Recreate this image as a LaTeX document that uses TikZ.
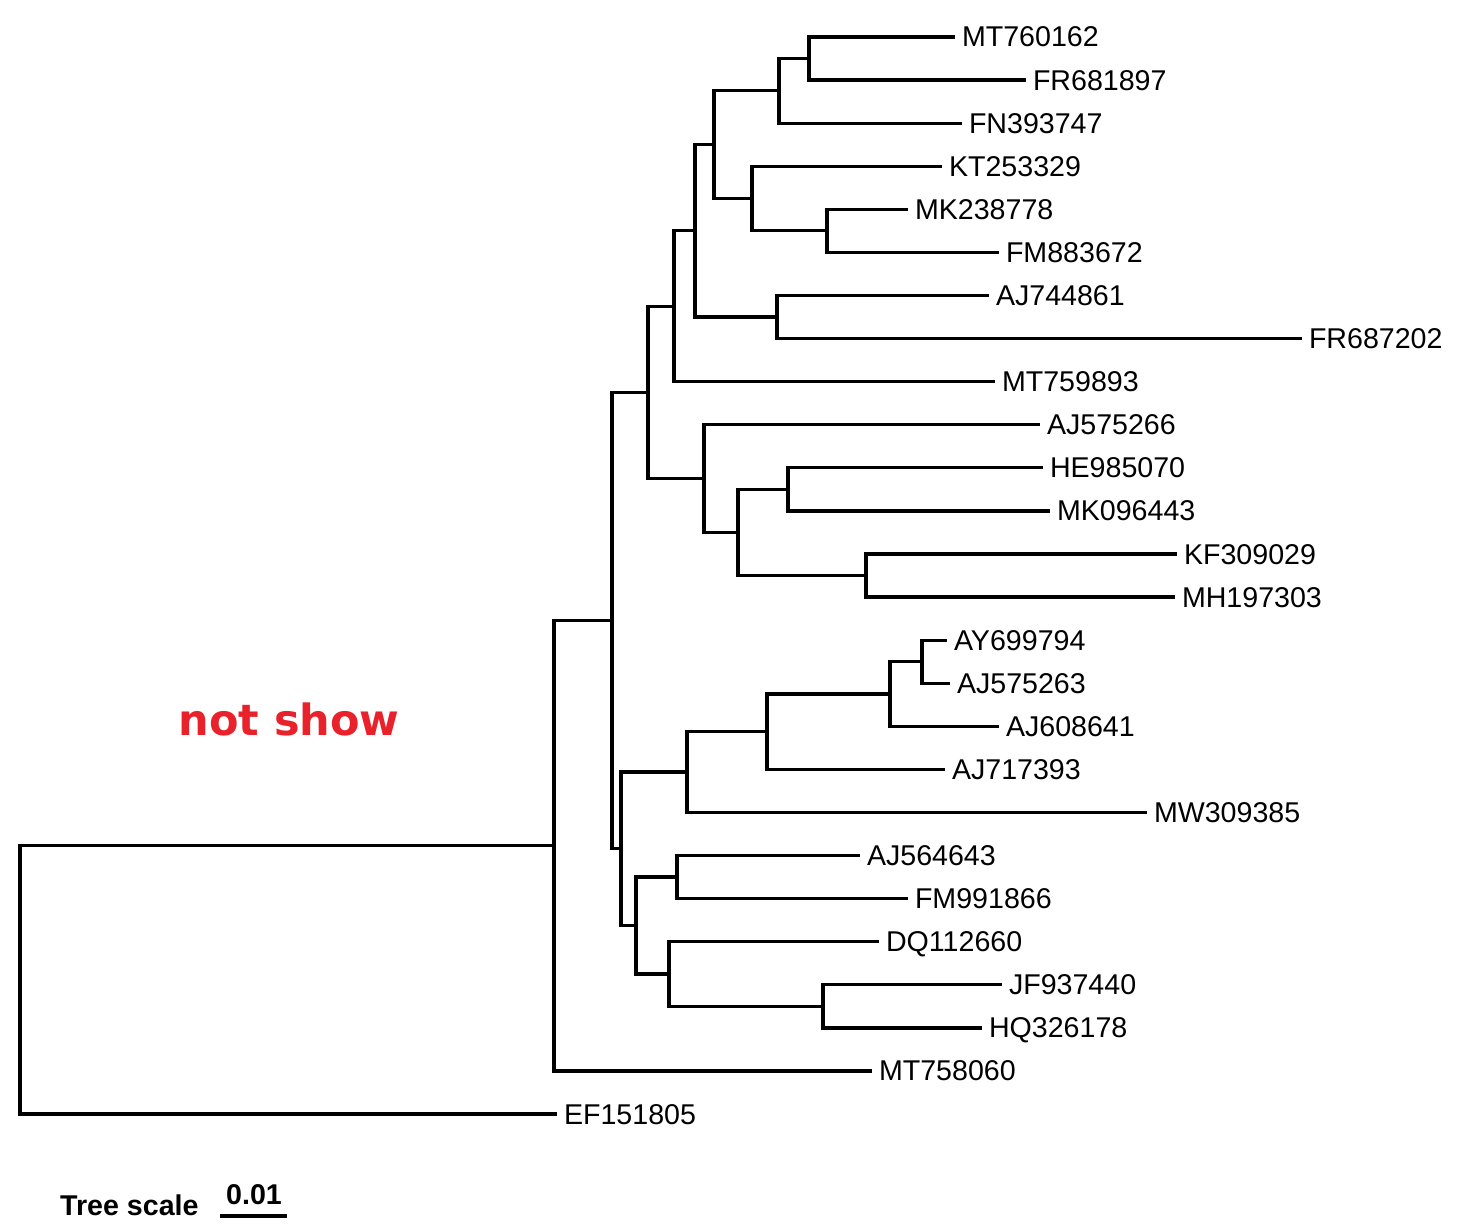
\documentclass[tikz,border=0pt]{standalone}
\usepackage{fontspec}
\setmainfont{Liberation Sans}
\newfontfamily\boldwide{DejaVu Sans}
\usepackage{tikz}
\definecolor{treered}{HTML}{E8212B}
\tikzstyle{leaf} = [anchor=west, inner xsep=9pt, inner ysep=0pt, outer sep=0pt,
    text height=20pt, text depth=0pt, font=\fontsize{28.6}{32}\selectfont]
\tikzstyle{branch} = [draw, line width=3.2pt, line join=miter, line cap=rect]

\begin{document}
\begin{tikzpicture}[x=1pt, y=-1pt]
        \useasboundingbox (0,0) rectangle (1458,1230);
        % We start by placing the leaves
        \node [leaf] (mt760162) at (953,37) {MT760162};
        \node [leaf] (fr681897) at (1024,80.1) {FR681897};
        \node [leaf] (fn393747) at (960,123.2) {FN393747};
        \node [leaf] (kt253329) at (940,166.2) {KT253329};
        \node [leaf] (mk238778) at (906,209.3) {MK238778};
        \node [leaf] (fm883672) at (997,252.4) {FM883672};
        \node [leaf] (aj744861) at (987,295.5) {AJ744861};
        \node [leaf] (fr687202) at (1300,338.6) {FR687202};
        \node [leaf] (mt759893) at (993,381.6) {MT759893};
        \node [leaf] (aj575266) at (1038,424.7) {AJ575266};
        \node [leaf] (he985070) at (1041,467.8) {HE985070};
        \node [leaf] (mk096443) at (1048,510.9) {MK096443};
        \node [leaf] (kf309029) at (1175,554) {KF309029};
        \node [leaf] (mh197303) at (1173,597) {MH197303};
        \node [leaf] (ay699794) at (945,640.1) {AY699794};
        \node [leaf] (aj575263) at (948,683.2) {AJ575263};
        \node [leaf] (aj608641) at (997,726.3) {AJ608641};
        \node [leaf] (aj717393) at (943,769.4) {AJ717393};
        \node [leaf] (mw309385) at (1145,812.4) {MW309385};
        \node [leaf] (aj564643) at (858,855.5) {AJ564643};
        \node [leaf] (fm991866) at (906,898.6) {FM991866};
        \node [leaf] (dq112660) at (877,941.7) {DQ112660};
        \node [leaf] (jf937440) at (1000,984.8) {JF937440};
        \node [leaf] (hq326178) at (980,1027.9) {HQ326178};
        \node [leaf] (mt758060) at (870,1070.9) {MT758060};
        \node [leaf] (ef151805) at (555,1114) {EF151805};

        % Inner nodes of the tree
        \coordinate (root) at (20,979.9);
        \coordinate (nA) at (554,845.8);
        \coordinate (nB) at (612,620.6);
        \coordinate (nC) at (648,392.4);
        \coordinate (nD) at (674,306.3);
        \coordinate (nE) at (695,230.9);
        \coordinate (nF) at (714,144.7);
        \coordinate (nG) at (779,90.9);
        \coordinate (nH) at (809,58.5);
        \coordinate (nI) at (752,198.5);
        \coordinate (nJ) at (827,230.8);
        \coordinate (nK) at (777,317);
        \coordinate (nL) at (704,478.5);
        \coordinate (nM) at (738,532.4);
        \coordinate (nN) at (788,489.4);
        \coordinate (nO) at (866,575.5);
        \coordinate (nP) at (621,848.8);
        \coordinate (nQ) at (687,772);
        \coordinate (nR) at (767,731.7);
        \coordinate (nS) at (890,694);
        \coordinate (nT) at (922,661.6);
        \coordinate (nU) at (636,925.5);
        \coordinate (nV) at (677,877);
        \coordinate (nW) at (669,974);
        \coordinate (nX) at (823,1006.3);

        % Once the nodes are placed, connecting them is easy.
        \draw [branch] (root) |- (nA);
        \draw [branch] (root) |- (ef151805);
        \draw [branch] (nA) |- (nB);
        \draw [branch] (nA) |- (mt758060);
        \draw [branch] (nB) |- (nC);
        \draw [branch] (nB) |- (nP);
        \draw [branch] (nC) |- (nD);
        \draw [branch] (nC) |- (nL);
        \draw [branch] (nD) |- (nE);
        \draw [branch] (nD) |- (mt759893);
        \draw [branch] (nE) |- (nF);
        \draw [branch] (nE) |- (nK);
        \draw [branch] (nF) |- (nG);
        \draw [branch] (nF) |- (nI);
        \draw [branch] (nG) |- (nH);
        \draw [branch] (nG) |- (fn393747);
        \draw [branch] (nH) |- (mt760162);
        \draw [branch] (nH) |- (fr681897);
        \draw [branch] (nI) |- (kt253329);
        \draw [branch] (nI) |- (nJ);
        \draw [branch] (nJ) |- (mk238778);
        \draw [branch] (nJ) |- (fm883672);
        \draw [branch] (nK) |- (aj744861);
        \draw [branch] (nK) |- (fr687202);
        \draw [branch] (nL) |- (aj575266);
        \draw [branch] (nL) |- (nM);
        \draw [branch] (nM) |- (nN);
        \draw [branch] (nM) |- (nO);
        \draw [branch] (nN) |- (he985070);
        \draw [branch] (nN) |- (mk096443);
        \draw [branch] (nO) |- (kf309029);
        \draw [branch] (nO) |- (mh197303);
        \draw [branch] (nP) |- (nQ);
        \draw [branch] (nP) |- (nU);
        \draw [branch] (nQ) |- (nR);
        \draw [branch] (nQ) |- (mw309385);
        \draw [branch] (nR) |- (nS);
        \draw [branch] (nR) |- (aj717393);
        \draw [branch] (nS) |- (nT);
        \draw [branch] (nS) |- (aj608641);
        \draw [branch] (nT) |- (ay699794);
        \draw [branch] (nT) |- (aj575263);
        \draw [branch] (nU) |- (nV);
        \draw [branch] (nU) |- (nW);
        \draw [branch] (nV) |- (aj564643);
        \draw [branch] (nV) |- (fm991866);
        \draw [branch] (nW) |- (dq112660);
        \draw [branch] (nW) |- (nX);
        \draw [branch] (nX) |- (jf937440);
        \draw [branch] (nX) |- (hq326178);

        % Note and scale bar
        \node [anchor=base, text=treered, font=\boldwide\bfseries\fontsize{43}{48}\selectfont]
            (note) at (289,735) {not show};
        \node [anchor=base west, inner sep=0pt, font=\bfseries\fontsize{28.6}{32}\selectfont]
            (scalename) at (60,1215) {Tree scale};
        \coordinate (barleft) at (220,1216);
        \coordinate (barright) at (287,1216);
        \draw [line width=3.6pt] (barleft) -- (barright);
        \node [anchor=base, inner sep=0pt, font=\bfseries\fontsize{28.6}{32}\selectfont]
            (scalevalue) at (254,1204) {0.01};
    \end{tikzpicture}
\end{document}
